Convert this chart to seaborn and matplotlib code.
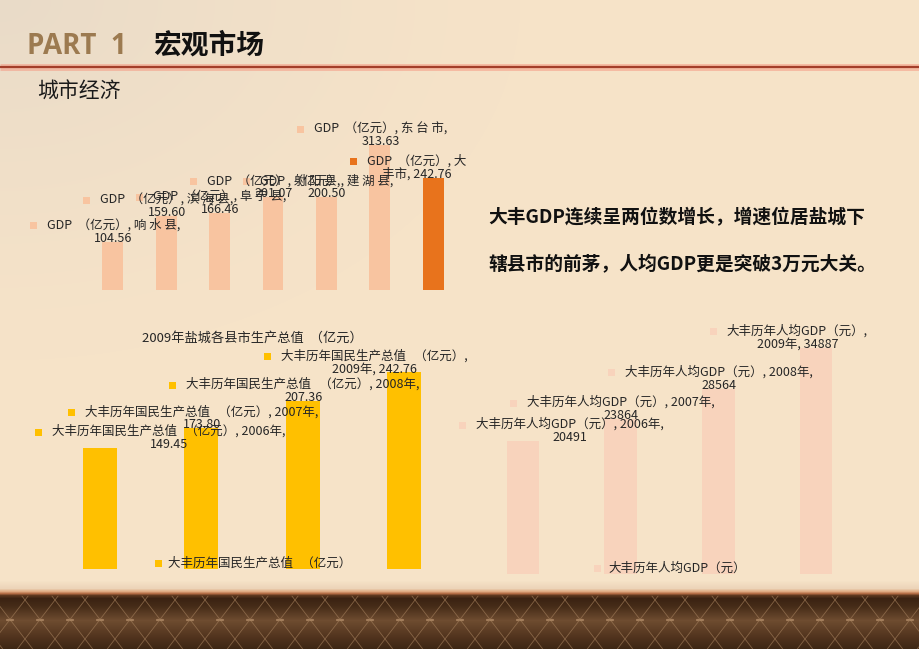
import numpy as np
import pandas as pd
import matplotlib
matplotlib.use("Agg")
import matplotlib.pyplot as plt
import seaborn as sns
from matplotlib.patches import Rectangle

# ---------------- data ----------------
cities = ["响水县", "滨海县", "阜宁县", "射阳县", "建湖县", "东台市", "大丰市"]
city_gdp = [104.56, 159.60, 166.46, 201.07, 200.50, 313.63, 242.76]
years = ["2006年", "2007年", "2008年", "2009年"]
dafeng_gdp = [149.45, 173.80, 207.36, 242.76]
dafeng_pc = [20491, 23864, 28564, 34887]

city_series = "GDP  （亿元）"
chart_title = "2009年盐城各县市生产总值  （亿元）"
gdp_series = "大丰历年国民生产总值   （亿元）"
pc_series = "大丰历年人均GDP（元）"
header_part = "PART  1"
header_title = "宏观市场"
sub_title = "城市经济"
para_lines = ["大丰GDP连续呈两位数增长，增速位居盐城下",
              "辖县市的前茅，人均GDP更是突破3万元大关。"]

# ---------------- style ----------------
sns.set_theme(style="white")
plt.rcParams["font.family"] = ["Noto Sans CJK SC", "DejaVu Sans"]

W, H = 920, 649
fig = plt.figure(figsize=(W / 100, H / 100), dpi=100)

# ---------------- background ----------------
bg = fig.add_axes([0, 0, 1, 1], zorder=-10)
yy, xx = np.mgrid[0:H, 0:W]
base = np.array([246, 227, 200]) / 255
corner = np.array([233, 219, 201]) / 255
d = np.sqrt((xx / 520.0) ** 2 + (yy / 360.0) ** 2)
wgt = np.clip(1 - d, 0, 1) ** 1.3
img = base * (1 - wgt[..., None]) + corner * wgt[..., None]
# bottom band
stops_y = [580, 588, 591, 593, 595, 598, 606, 620, 636, 649]
stops_c = np.array([[246, 227, 200], [236, 212, 184], [222, 170, 130], [180, 110, 70],
                    [92, 55, 30], [58, 34, 18], [70, 44, 24], [110, 76, 48],
                    [82, 52, 30], [60, 38, 20]]) / 255
rows = np.arange(H)
band = np.stack([np.interp(rows, stops_y, stops_c[:, k]) for k in range(3)], axis=1)
mask = rows >= 580
img[mask] = band[mask][:, None, :]
bg.imshow(img, extent=(0, W, H, 0), aspect="auto", interpolation="bilinear")
bg.set_xlim(0, W)
bg.set_ylim(H, 0)
# lattice
ys = np.array([596, H])
for k in range(-3, 34):
    x0 = 25 + 30 * k
    bg.plot(x0 + (ys - 600) / 1.3, ys, color="#9a7654", lw=0.6, alpha=0.75)
    bg.plot(x0 - (ys - 600) / 1.3, ys, color="#9a7654", lw=0.6, alpha=0.75)
    bg.plot([x0 + 12, x0 + 18], [619.5, 619.5], color="#b08a66", lw=1.6, alpha=0.8)
# header rule
bg.plot([0, W], [66.5, 66.5], color="#f59a84", lw=5, alpha=0.55, solid_capstyle="butt")
bg.plot([0, W], [66.5, 66.5], color="#a33e2a", lw=1.6, solid_capstyle="butt")
bg.set_axis_off()

# ---------------- header texts ----------------
fig.text(27 / W, 1 - 46 / H, header_part, fontsize=20, fontweight="bold",
         family=["Open Sans", "Noto Sans CJK SC"],
         color="#9c7a50", ha="left", va="center")
fig.text(153 / W, 1 - 46 / H, header_title, fontsize=20, fontweight="bold",
         color="#111111", ha="left", va="center")
fig.text(37 / W, 1 - 92 / H, sub_title, fontsize=15, color="#1a1a1a",
         ha="left", va="center")
for i, line in enumerate(para_lines):
    fig.text(488 / W, 1 - (218 + 47 * i) / H, line, fontsize=13.5, fontweight="bold",
             color="#111111", ha="left", va="center")


def px_axes(left, top, right, bottom):
    ax = fig.add_axes([left / W, 1 - bottom / H, (right - left) / W, (bottom - top) / H])
    ax.patch.set_alpha(0)
    return ax


# ---------------- charts ----------------
peach, orange, gold, pink = "#f8c4a0", "#e8731c", "#ffc000", "#f8d3bc"
nobar = dict(edgecolor="none", linewidth=0)

ax1 = px_axes(86, 110, 460, 290)
df1 = pd.DataFrame({"city": cities, "gdp": city_gdp})
sns.barplot(data=df1, x="city", y="gdp", hue="city",
            palette=[peach] * (len(cities) - 1) + [orange], legend=False,
            width=0.39, saturation=1, ax=ax1, **nobar)
ax1.set_xlim(-0.5, len(cities) - 0.5)
ax1.set_ylim(0, 180 / 0.4614)
ax1.set_axis_off()

ax2 = px_axes(49.3, 330, 454.7, 569)
df2 = pd.DataFrame({"year": years, "gdp": dafeng_gdp})
sns.barplot(data=df2, x="year", y="gdp", color=gold, width=0.336, saturation=1,
            ax=ax2, **nobar)
ax2.set_xlim(-0.5, len(years) - 0.5)
ax2.set_ylim(0, 239 / 0.81)
ax2.set_axis_off()

ax3 = px_axes(474, 330, 865, 574)
df3 = pd.DataFrame({"year": years, "pc": dafeng_pc})
sns.barplot(data=df3, x="year", y="pc", color=pink, width=0.33, saturation=1,
            ax=ax3, **nobar)
ax3.set_xlim(-0.5, len(years) - 0.5)
ax3.set_ylim(0, 244 / 0.00649)
ax3.set_axis_off()

fig.canvas.draw()
renderer = fig.canvas.get_renderer()

LABEL_FS = 9
TXT = "#262626"


def place_label(lines, wrapped, cx, top, mcolor, lo, hi, msz=7, gap=10, dx=-8):
    txt = fig.text(0, 0, "\n".join(lines), fontsize=LABEL_FS, ha="left", va="bottom",
                   multialignment="center", color=TXT, linespacing=1.0)
    bb = txt.get_window_extent(renderer)
    block = msz + gap + bb.width
    left = cx - block / 2 + dx
    if left + block > hi and wrapped is not None:
        lines = wrapped
        txt.set_text("\n".join(lines))
        bb = txt.get_window_extent(renderer)
        block = msz + gap + bb.width
        left = cx - block / 2 + dx
    left = min(max(left, lo), hi - block)
    tx = left + msz + gap
    ty = top - 3
    txt.set_position((tx / W, ty / H))
    line_h = bb.height / len(lines)
    my = ty + bb.height - line_h / 2 - 1
    fig.add_artist(Rectangle((left / W, (my - msz / 2) / H), msz / W, msz / H,
                             transform=fig.transFigure, facecolor=mcolor,
                             edgecolor="none"))


def bar_geo(ax):
    ps = sorted(ax.patches, key=lambda p: p.get_x())
    out = []
    for p in ps:
        b = p.get_window_extent(renderer)
        out.append(((b.x0 + b.x1) / 2, b.y1))
    return out


# top chart labels
for i, (c, v) in enumerate(zip(cities, city_gdp)):
    cx, top = bar_geo(ax1)[i]
    col = orange if i == len(cities) - 1 else peach
    lines = [f"{city_series}, {' '.join(c)},", f"{v:.2f}"]
    wrapped = [f"{city_series}, {c[0]}", f"{c[1:]}, {v:.2f}"]
    place_label(lines, wrapped, cx, top, col, 25, 466)

# left chart labels
for i, (y, v) in enumerate(zip(years, dafeng_gdp)):
    cx, top = bar_geo(ax2)[i]
    lines = [f"{gdp_series}, {y},", f"{v:.2f}"]
    wrapped = [f"{gdp_series},", f"{y}, {v:.2f}"]
    place_label(lines, wrapped, cx, top, gold, 35, 468)

# right chart labels
for i, (y, v) in enumerate(zip(years, dafeng_pc)):
    cx, top = bar_geo(ax3)[i]
    lines = [f"{pc_series}, {y},", f"{v}"]
    wrapped = [f"{pc_series},", f"{y}, {v}"]
    place_label(lines, wrapped, cx, top, pink, 459, 868)

# chart title and legends
fig.text(252 / W, 1 - 338 / H, chart_title, fontsize=9.5, color=TXT, ha="center", va="center")
fig.add_artist(Rectangle((155 / W, 1 - 566.5 / H), 7 / W, 7 / H, transform=fig.transFigure,
                         facecolor=gold, edgecolor="none"))
fig.text(168 / W, 1 - 563 / H, gdp_series, fontsize=LABEL_FS, color=TXT, ha="left", va="center")
fig.add_artist(Rectangle((594 / W, 1 - 571.5 / H), 7 / W, 7 / H, transform=fig.transFigure,
                         facecolor=pink, edgecolor="none"))
fig.text(608 / W, 1 - 568 / H, pc_series, fontsize=LABEL_FS, color=TXT, ha="left", va="center")

fig.savefig("out.png", dpi=100)
